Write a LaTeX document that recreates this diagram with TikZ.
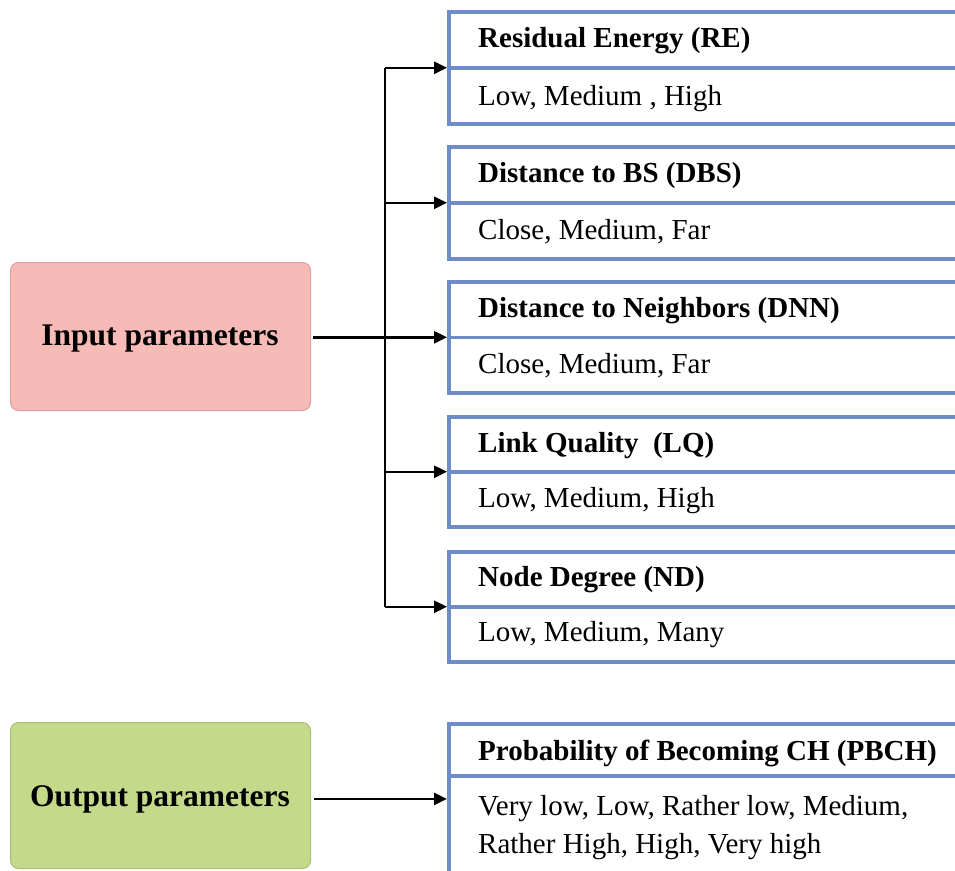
\documentclass[tikz,border=0pt]{standalone}
\usepackage{fontspec}
\setmainfont{Liberation Serif}
\usetikzlibrary{arrows.meta}
\definecolor{boxblue}{RGB}{110,140,200}
\definecolor{pinkfill}{RGB}{247,187,183}
\definecolor{pinkline}{RGB}{222,160,160}
\definecolor{greenfill}{RGB}{197,217,138}
\definecolor{greenline}{RGB}{170,190,120}
\tikzset{
  x=1pt, y=-1pt,
  pbox/.style={draw=boxblue, line width=3.5pt, rectangle, minimum width=560pt, anchor=north west, inner sep=0pt},
  ttl/.style={anchor=base west, inner sep=0pt, font=\fontsize{29}{34}\selectfont\bfseries},
  val/.style={anchor=base west, inner sep=0pt, font=\fontsize{29}{37}\selectfont, align=left},
  side/.style={rectangle, rounded corners=8pt, line width=1pt, minimum width=300pt, font=\fontsize{31.5}{36}\selectfont\bfseries, anchor=north west},
  conn/.style={line width=2.5pt, -{Triangle[length=13pt,width=12pt]}},
  spine/.style={line width=2.5pt}
}
\begin{document}
\begin{tikzpicture}
\useasboundingbox (0,0) rectangle (955,870);
\clip (0,0) rectangle (955,870);
% input / output boxes
\node[side, draw=pinkline, fill=pinkfill, minimum height=148pt] (in) at (10,262) {};
\node[font=\fontsize{31.5}{36}\selectfont\bfseries, anchor=base, inner sep=0pt] (inT) at (160,345) {Input parameters};
\node[side, draw=greenline, fill=greenfill, minimum height=146pt] (out) at (10,722) {};
\node[font=\fontsize{31.5}{36}\selectfont\bfseries, anchor=base, inner sep=0pt] (outT) at (160,806) {Output parameters};
% parameter boxes
\node[pbox, minimum height=112pt] (b1) at (447,10) {};
\node[pbox, minimum height=112pt] (b2) at (447,145) {};
\node[pbox, minimum height=111pt] (b3) at (447,280) {};
\node[pbox, minimum height=110pt] (b4) at (447,415) {};
\node[pbox, minimum height=110pt] (b5) at (447,550) {};
\node[pbox, minimum height=150pt] (b6) at (447,722) {};
\foreach \b in {b1,b2,b3,b4,b5}{\draw[boxblue, line width=3.5pt] (\b.west) -- (\b.east);}
\coordinate (d6) at (447,776);
\draw[boxblue, line width=3.5pt] (d6) -- (d6 -| b6.east);
% texts
\node[ttl] (t1) at (478,47) {Residual Energy (RE)};
\node[val] (v1) at (478,105) {Low, Medium , High};
\node[ttl] (t2) at (478,182) {Distance to BS (DBS)};
\node[val] (v2) at (478,239) {Close, Medium, Far};
\node[ttl] (t3) at (478,317) {Distance to Neighbors (DNN)};
\node[val] (v3) at (478,373) {Close, Medium, Far};
\node[ttl] (t4) at (478,452) {Link Quality\ \ (LQ)};
\node[val] (v4) at (478,507) {Low, Medium, High};
\node[ttl] (t5) at (478,586) {Node Degree (ND)};
\node[val] (v5) at (478,641) {Low, Medium, Many};
\node[ttl] (t6) at (478,760) {Probability of Becoming CH (PBCH)};
\node[val] (v6a) at (478,815) {Very low, Low, Rather low, Medium,};
\node[val] (v6b) at (478,853) {Rather High, High, Very high};
% connectors
\coordinate (sp) at (385,0);
\draw[spine] (sp |- b1.west) -- (sp |- b5.west);
\draw[conn] ([xshift=2pt]in.east |- b3.west) -- (b3.west);
\foreach \b in {b1,b2,b4,b5}{\draw[conn] (sp |- \b.west) -- (\b.west);}
\draw[conn] ([xshift=3pt]out.east |- outT.center) -- (outT.center -| b6.west);
\end{tikzpicture}
\end{document}
